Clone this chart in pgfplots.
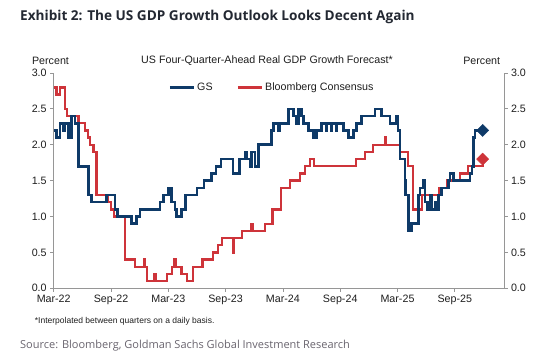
\documentclass[border=0pt]{standalone}
\usepackage{fontspec}
\setmainfont{Liberation Sans}
\newfontfamily\titlefont{Open Sans}
\usepackage{pgfplots}
\pgfplotsset{compat=1.18}
\definecolor{gsblue}{RGB}{14,58,104}
\definecolor{bbred}{RGB}{206,52,58}
\definecolor{axisgray}{RGB}{150,150,150}
\definecolor{titlecol}{RGB}{35,40,50}
\definecolor{srccol}{RGB}{105,100,110}
\definecolor{txtcol}{RGB}{30,30,30}

\pgfplotstableread{
x y
0.06 2.8
0.31 2.7
0.66 2.8
1.18 2.5
1.42 2.4
2.58 2.3
3.28 2.2
3.59 2.1
3.80 2.0
4.15 1.9
4.50 1.3
5.69 1.2
6.00 1.1
6.31 1.0
7.47 0.4
8.51 0.3
9.46 0.4
9.56 0.3
9.77 0.1
10.5 0.2
10.7 0.1
11.86 0.2
12.39 0.3
12.6 0.4
12.8 0.3
13.4 0.2
13.96 0.1
14.6 0.3
15.6 0.4
16.68 0.5
17.2 0.6
17.6 0.7
18.78 0.5
18.88 0.7
19.69 0.8
20.66 0.9
20.87 0.8
22.13 0.9
22.93 1.1
23.77 1.4
24.74 1.5
25.79 1.6
26.31 1.7
26.85 1.8
27.26 1.7
31.65 1.8
32.6 1.9
33.43 2.0
34.69 2.1
34.8 2.0
36.26 1.9
37.1 1.7
37.62 1.1
38.54 1.3
40.35 1.4
41.15 1.5
42.54 1.6
43.38 1.7
44.92 1.8
}\bbdata

\pgfplotstableread{
x y
0.06 2.2
0.31 2.1
0.66 2.3
1.0 2.2
1.18 2.3
1.53 2.1
1.88 2.4
2.23 2.3
2.58 1.7
3.62 1.3
3.98 1.2
5.55 1.3
6.42 1.1
6.66 1.0
8.17 0.9
8.69 1.0
9.04 1.1
11.13 1.2
11.48 1.3
12.0 1.4
12.36 1.2
12.7 1.1
12.88 1.0
13.4 1.1
13.77 1.3
15.0 1.4
15.74 1.5
16.54 1.6
17.0 1.7
17.5 1.8
18.78 1.6
19.45 1.8
20.03 1.9
20.24 1.8
20.55 1.7
20.73 1.9
21.08 1.7
21.42 2.0
22.83 2.2
23.0 2.3
23.49 2.2
23.7 2.3
24.57 2.5
25.09 2.4
25.37 2.3
25.61 2.5
25.97 2.4
26.14 2.3
26.66 2.2
27.18 2.1
27.54 2.2
28.06 2.3
28.5 2.2
28.6 2.3
29.04 2.2
29.14 2.3
29.56 2.2
29.66 2.3
30.32 2.2
30.85 2.1
31.37 2.2
31.73 2.3
32.25 2.4
33.64 2.5
34.34 2.4
35.21 2.3
35.92 2.4
36.05 2.2
36.26 1.8
36.79 1.5
36.84 1.3
37.13 0.8
37.49 0.9
38.18 1.3
38.36 1.4
38.71 1.5
38.88 1.2
39.12 1.1
39.4 1.3
39.58 1.1
39.93 1.2
40.17 1.1
40.27 1.3
40.63 1.4
41.32 1.5
41.5 1.6
41.84 1.5
43.59 1.6
43.8 1.7
43.94 2.1
44.12 2.2
44.92 2.2
}\gsdata

\pgfplotsset{
  commonaxis/.style={
    at={(53.7pt,-288.3pt)}, anchor=south west,
    width=450.3pt, height=215.3pt, scale only axis,
    xmin=0, xmax=47.15, ymin=0, ymax=3,
    axis line style={-, axisgray, line width=0.8pt},
    tick style={axisgray, line width=0.8pt},
    major tick length=3.5pt, tick align=outside,
    ytick={0,0.5,...,3},
    /pgf/number format/assume math mode=true,
    yticklabel style={/pgf/number format/.cd, fixed, fixed zerofill, precision=1},
    tick label style={font=\fontsize{10.7}{12}\selectfont, text=txtcol},
  }
}

\begin{document}
\begin{tikzpicture}[x=1pt,y=1pt]
\path[use as bounding box] (0,0) rectangle (546,-355);
\node[anchor=west, font=\titlefont\bfseries\fontsize{13.6}{16}\selectfont, text=titlecol, inner sep=0] at (20,-17) {Exhibit 2: The US GDP Growth Outlook Looks Decent Again};
\node[font=\fontsize{10.7}{12}\selectfont, text=txtcol, inner sep=0] at (267,-60.5) {US Four-Quarter-Ahead Real GDP Growth Forecast*};
\node[font=\fontsize{10.7}{12}\selectfont, text=txtcol, inner sep=0] at (50.5,-60.5) {Percent};
\node[font=\fontsize{10.7}{12}\selectfont, text=txtcol, inner sep=0] at (481.7,-60.5) {Percent};
\node[anchor=west, font=\fontsize{8.5}{10}\selectfont, text=txtcol, inner sep=0] at (34.7,-321) {*Interpolated between quarters on a daily basis.};
\node[anchor=west, font=\titlefont\fontsize{11}{13}\selectfont, text=srccol, inner sep=0] at (20,-345.7) {Source: Bloomberg, Goldman Sachs Global Investment Research};

\begin{axis}[commonaxis,
  axis x line*=bottom, axis y line*=left,
  xtick={0,6,...,42},
  xticklabels={Mar-22,Sep-22,Mar-23,Sep-23,Mar-24,Sep-24,Mar-25,Sep-25},
  legend style={at={(0.485,0.932)}, anchor=center, draw=none, fill=none,
    font=\fontsize{10.7}{12}\selectfont, text=txtcol,
    /tikz/every even column/.append style={column sep=22pt}},
  legend columns=2,
  legend image code/.code={\draw[#1] (0pt,0pt) -- (24pt,0pt);},
]
\addlegendimage{gsblue, line width=2.5pt}
\addlegendentry{GS}
\addlegendimage{bbred, line width=2.5pt}
\addlegendentry{Bloomberg Consensus}
\addplot[const plot, bbred, line width=2.4pt, forget plot] table[x=x,y=y] {\bbdata};
\addplot[const plot, gsblue, line width=2.6pt, forget plot] table[x=x,y=y] {\gsdata};
\addplot[only marks, mark=square*, mark size=4.3pt, mark options={rotate=45}, bbred, forget plot] coordinates {(44.92,1.8)};
\addplot[only marks, mark=square*, mark size=4.3pt, mark options={rotate=45}, gsblue, forget plot] coordinates {(44.92,2.2)};
\end{axis}

\begin{axis}[commonaxis,
  axis x line=none, axis y line*=right,
]
\end{axis}
\end{tikzpicture}
\end{document}
